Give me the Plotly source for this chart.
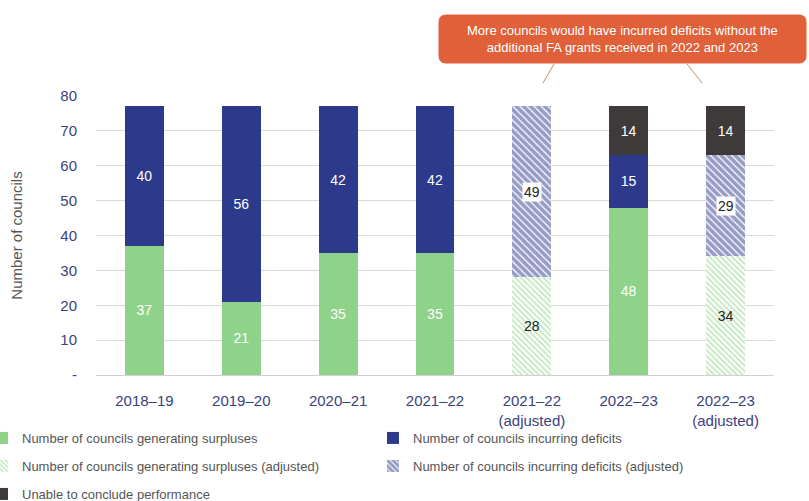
import plotly.graph_objects as go

categories = ["2018–19", "2019–20", "2020–21", "2021–22", "2021–22<br>(adjusted)", "2022–23", "2022–23<br>(adjusted)"]
surplus = [37, 21, 35, 35, None, 48, None]
deficit = [40, 56, 42, 42, None, 15, None]
surplus_adj = [None, None, None, None, 28, None, 34]
deficit_adj = [None, None, None, None, 49, None, 29]
unable = [None, None, None, None, None, 14, 14]
y_tickvals = [0, 10, 20, 30, 40, 50, 60, 70, 80]
y_ticktext = ["-", "10", "20", "30", "40", "50", "60", "70", "80"]

GREEN = "#8fd28a"
NAVY = "#2d3a8c"
DARK = "#3e3a3a"
FONT = "Liberation Sans, Arial, sans-serif"

W, H = 809, 501
L, R, T, B = 96, 35, 96, 126
PW, PH = W - L - R, H - T - B

def px(x):
    return (x - L) / PW

def py(y):
    return (H - B - y) / PH

fig = go.Figure()
fig.add_trace(go.Bar(x=categories, y=surplus, name="Number of councils generating surpluses",
                     marker=dict(color=GREEN, line=dict(width=0)),
                     text=surplus, textposition="inside", insidetextanchor="middle",
                     textfont=dict(color="white", size=14, family=FONT), legend="legend"))
fig.add_trace(go.Bar(x=categories, y=surplus_adj, name="Number of councils generating surpluses (adjusted)",
                     marker=dict(color="white", line=dict(width=0),
                                 pattern=dict(shape="\\", fgcolor=GREEN, bgcolor="white", size=4, solidity=0.5)),
                     text=surplus_adj, textposition="inside", insidetextanchor="middle",
                     textfont=dict(color="#222222", size=14, family=FONT), legend="legend3"))
fig.add_trace(go.Bar(x=categories, y=deficit, name="Number of councils incurring deficits",
                     marker=dict(color=NAVY, line=dict(width=0)),
                     text=deficit, textposition="inside", insidetextanchor="middle",
                     textfont=dict(color="white", size=14, family=FONT), legend="legend2"))
fig.add_trace(go.Bar(x=categories, y=deficit_adj, name="Number of councils incurring deficits (adjusted)",
                     marker=dict(color="white", line=dict(width=0),
                                 pattern=dict(shape="\\", fgcolor=NAVY, bgcolor="white", size=5, solidity=0.75)),
                     legend="legend4"))
fig.add_trace(go.Bar(x=categories, y=unable, name="Unable to conclude performance",
                     marker=dict(color=DARK, line=dict(width=0)),
                     text=unable, textposition="inside", insidetextanchor="middle",
                     textfont=dict(color="white", size=14, family=FONT), legend="legend5"))

# labels with white background for adjusted deficits
for c, s, d in zip(categories, surplus_adj, deficit_adj):
    if d is not None:
        fig.add_annotation(x=c, y=s + d / 2, text=str(d), showarrow=False,
                           bgcolor="white", borderpad=1,
                           font=dict(color="#222222", size=14, family=FONT))

# callout
x0, x1, y0, y1, r = 439, 806, 15, 63, 7
path = (f"M {px(x0 + r)} {py(y0)} L {px(x1 - r)} {py(y0)} Q {px(x1)} {py(y0)} {px(x1)} {py(y0 + r)} "
        f"L {px(x1)} {py(y1 - r)} Q {px(x1)} {py(y1)} {px(x1 - r)} {py(y1)} "
        f"L {px(x0 + r)} {py(y1)} Q {px(x0)} {py(y1)} {px(x0)} {py(y1 - r)} "
        f"L {px(x0)} {py(y0 + r)} Q {px(x0)} {py(y0)} {px(x0 + r)} {py(y0)} Z")
fig.add_shape(type="path", path=path, xref="paper", yref="paper", layer="below",
              fillcolor="#e0603a", line=dict(color="#e0603a", width=1))
fig.add_annotation(x=px((x0 + x1) / 2), y=py(39), xref="paper", yref="paper", showarrow=False,
                   xanchor="center", yanchor="middle",
                   text="More councils would have incurred deficits without the<br>additional FA grants received in 2022 and 2023",
                   font=dict(color="white", size=13, family=FONT), align="center")
for (ax0, ay0, ax1, ay1) in [(554, 64, 543, 83), (687, 64, 702, 83)]:
    fig.add_shape(type="line", xref="paper", yref="paper",
                  x0=px(ax0), y0=py(ay0), x1=px(ax1), y1=py(ay1),
                  line=dict(color="#c98a74", width=1))

legend_common = dict(orientation="v", xref="paper", yref="container",
                     font=dict(size=13, color="#555555", family=FONT),
                     bgcolor="rgba(0,0,0,0)", itemclick=False, itemdoubleclick=False,
                     yanchor="middle", xanchor="left")
LX1 = px(-18)
LX2 = px(373)

fig.update_layout(
    width=W, height=H,
    margin=dict(l=L, r=R, t=T, b=B, autoexpand=False),
    paper_bgcolor="white", plot_bgcolor="white",
    barmode="stack", bargap=0.6,
    font=dict(family=FONT),
    showlegend=True,
    legend=dict(x=LX1, y=1 - 438 / H, **legend_common),
    legend2=dict(x=LX2, y=1 - 438 / H, **legend_common),
    legend3=dict(x=LX1, y=1 - 466 / H, **legend_common),
    legend4=dict(x=LX2, y=1 - 466 / H, **legend_common),
    legend5=dict(x=LX1, y=1 - 494 / H, **legend_common),
    xaxis=dict(showline=True, linecolor="#d0d0d0", linewidth=1, ticks="",
               ticklabelstandoff=12,
               tickfont=dict(size=15, color="#3b4280", family=FONT)),
    yaxis=dict(range=[0, 80], tickvals=y_tickvals, ticktext=y_ticktext,
               showgrid=True, gridcolor="#d9d9d9", gridwidth=1, zeroline=False,
               ticklabelstandoff=18,
               tickfont=dict(size=15, color="#3b4280", family=FONT),
               title=dict(text="Number of councils", font=dict(size=15, color="#555555", family=FONT), standoff=34),
               ticks="", ticklen=0),
)

fig.write_html("out.html")
